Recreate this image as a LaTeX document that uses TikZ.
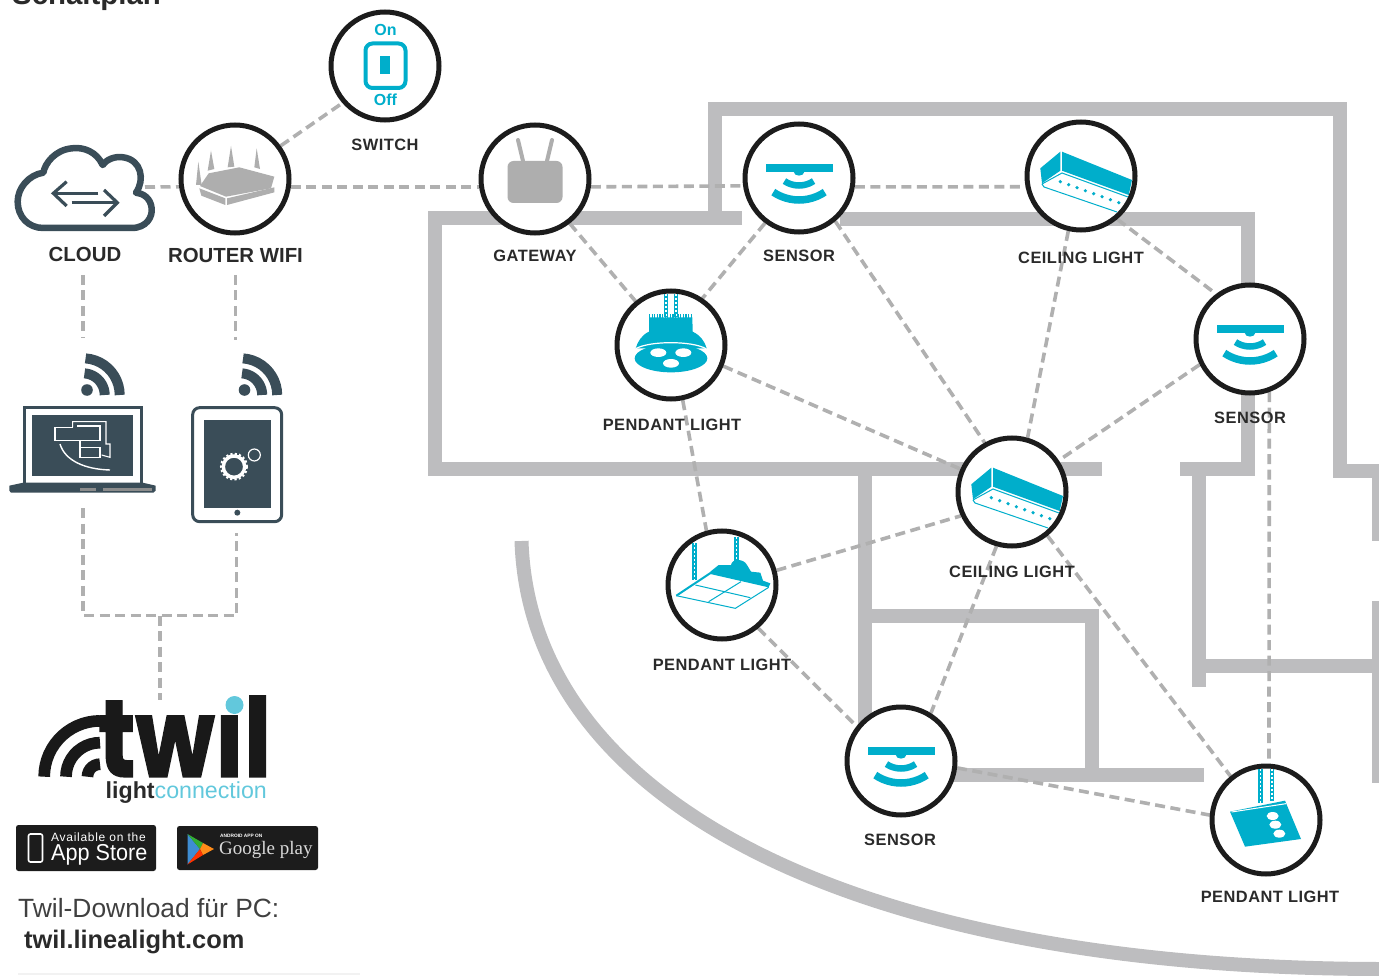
\documentclass[tikz,border=0pt]{standalone}
\usepackage{fontspec}
\setmainfont{Liberation Sans}
\newfontfamily\labfont[LetterSpace=3]{Liberation Sans}
\newfontfamily\spacedfont[LetterSpace=6]{Liberation Sans}
\newfontfamily\logofont[BoldFeatures={FakeBold=1.6}]{Poppins}
\newfontfamily\gfont{Liberation Serif}
\definecolor{wallc}{HTML}{BDBDBF}
\definecolor{linkc}{HTML}{B0B0B0}
\definecolor{ink}{HTML}{1C1C1C}
\definecolor{txt}{HTML}{2A2A2A}
\definecolor{cy}{HTML}{00AECB}
\definecolor{slate}{HTML}{3A4D58}
\definecolor{lightcy}{HTML}{62C8DC}
\definecolor{devgray}{HTML}{AEAEAE}
\pgfdeclarelayer{walls}
\pgfdeclarelayer{links}
\pgfsetlayers{walls,links,main}
\tikzset{
  lamp/.style={circle,draw=ink,line width=5pt,fill=white,minimum size=108pt,inner sep=0pt},
  wall/.style={draw=wallc,line width=14pt},
  link/.style={draw=linkc,line width=3.6pt,dash pattern=on 10pt off 5.5pt},
  lab/.style={inner sep=0pt,text=txt,font=\labfont\bfseries\fontsize{16.4}{18}\selectfont},
  bigl/.style={inner sep=0pt,text=txt,font=\bfseries\fontsize{20.4}{24}\selectfont},
  chainl/.style={draw=cy,line width=4.6pt},
  chaind/.style={draw=white,line width=1.6pt,dash pattern=on 2pt off 2pt},
}
\newcommand{\sensoricon}[1]{\begin{scope}[shift={(#1)}]
  \fill[cy] (-33.5,-14) rectangle (33.5,-6);
  \fill[cy] (-5.5,-6.5) .. controls (-5,-1) and (5,-1) .. (5.5,-6.5) -- cycle;
  \draw[cy,line width=6.5pt] plot[domain=-34:34,samples=13] ({26*sin(\x)},{-18.5+26*cos(\x)});
  \draw[cy,line width=7.5pt] plot[domain=-34:34,samples=13] ({46*sin(\x)},{-24+46*cos(\x)});
\end{scope}}
\newcommand{\ceilingicon}[1]{\begin{scope}[shift={(#1)}]
  \fill[cy] (-40.7,-7.7) -- (-20.7,-24.3) -- (-20.7,-5.3) -- (-39,7.3) -- cycle;
  \fill[cy] (-19,-24.3) -- (51,4) -- (47.7,19) -- (-19,-5.3) -- cycle;
  \draw[cy,line width=1pt] (-39,8) -- (-19,-3) -- (47,21);
  \draw[cy,line width=1pt] (-39,8) -- (-37,11) -- (36,36);
  \foreach \k in {0,...,7} \fill[cy] ({-20.7+\k*8.35},{5.7+\k*3}) circle[radius=1.8];
\end{scope}}
\newcommand{\chainline}[3]{%
  \draw[chainl] (#1,#2) -- (#1,#3); \draw[chaind] (#1,#2) -- (#1,#3);}
\newcommand{\wifiicon}[1]{\begin{scope}[shift={(#1)}]
  \fill[slate] (4,-5) circle[radius=5.8];
  \draw[slate,line width=10pt] plot[domain=0:86,samples=12] ({21.7*cos(\x)},{-21.7*sin(\x)});
  \draw[slate,line width=10pt] plot[domain=0:86,samples=12] ({36.7*cos(\x)},{-36.7*sin(\x)});
\end{scope}}
\begin{document}
\begin{tikzpicture}[x=1pt,y=-1pt]
\clip (0,0) rectangle (1379,976);
\useasboundingbox (0,0) rectangle (1379,976);

% --- walls
\begin{pgfonlayer}{walls}
  \draw[wall] (742,218) -- (435,218) -- (435,469) -- (1102,469);
  \draw[wall,line join=miter] (715,218) -- (715,109) -- (1340,109) -- (1340,470.5) -- (1379,470.5);
  \draw[wall] (840,219) -- (1248,219) -- (1248,469) -- (1180,469);
  \draw[wall] (865,469) -- (865,730);
  \draw[wall] (865,616) -- (1091.5,616) -- (1091.5,775);
  \draw[wall] (950,774.5) -- (1204,774.5);
  \draw[wall] (1199,469) -- (1199,687);
  \draw[wall] (1199,666) -- (1379,666);
  \draw[wall] (1379,478) -- (1379,541);
  \draw[wall] (1379,601) -- (1379,783);
  \draw[wall] (521.5,541) .. controls (530,800) and (850,968) .. (1379,969);
  \draw[draw=black!5,line width=2pt] (18,974) -- (360,974);
\end{pgfonlayer}

% --- device circles
\node[lamp] (switch)   at (385,66)  {};
\node[lamp] (router)   at (235,179) {};
\node[lamp] (gateway)  at (535,179) {};
\node[lamp] (sensorA)  at (799,178) {};
\node[lamp] (ceilingA) at (1081,176) {};
\node[lamp] (sensorB)  at (1250,339) {};
\node[lamp] (pendantA) at (671,345) {};
\node[lamp] (ceilingB) at (1012,492) {};
\node[lamp] (pendantB) at (722,585) {};
\node[lamp] (sensorC)  at (901,761) {};
\node[lamp] (pendantC) at (1266,820) {};

% --- free connector ends
\coordinate (cloudport) at (145,187);
\coordinate (cloudlow) at (83,275);
\coordinate (routerlow) at (235.5,275);
\coordinate (wifiA) at (83,338);
\coordinate (wifiB) at (235.5,340);
\coordinate (laptoplow) at (83,508);
\coordinate (tabletlow) at (236.5,533);
\coordinate (joinL) at (83,615.5);
\coordinate (joinR) at (236.5,615.5);
\coordinate (joinM) at (160,615.5);
\coordinate (logotop) at (160,700);

% --- labels
\node[lab] (lswitch) at (385,145) {SWITCH};
\node[bigl] (lcloud) at (85,254) {CLOUD};
\node[bigl] (lrouter) at (235.5,255) {ROUTER WIFI};
\node[lab] (lgateway) at (535,256) {GATEWAY};
\node[lab] (lsensorA) at (799,256) {SENSOR};
\node[lab] (lceilingA) at (1081,258) {CEILING LIGHT};
\node[lab] (lsensorB) at (1250,418) {SENSOR};
\node[lab] (lpendantA) at (672,425) {PENDANT LIGHT};
\node[lab] (lceilingB) at (1012,572) {CEILING LIGHT};
\node[lab] (lpendantB) at (722,665) {PENDANT LIGHT};
\node[lab] (lsensorC) at (900,840) {SENSOR};
\node[lab] (lpendantC) at (1270,897) {PENDANT LIGHT};

% --- connectors
\begin{pgfonlayer}{links}
  \draw[link] (cloudport) -- (router.188);
  \draw[link] (router.-8) -- (gateway.188);
  \draw[link] (gateway.-8) -- (sensorA.188);
  \draw[link] (sensorA.-9) -- (ceilingA.191);
  \draw[link] (router.36) -- (switch.221);
  \draw[link] (gateway.-52) -- (pendantA.129);
  \draw[link] (sensorA.233) -- (pendantA.56);
  \draw[link] (sensorA.-50) -- (ceilingB.119);
  \draw[link] (ceilingA.257) -- (ceilingB.74);
  \draw[link] (ceilingA.-50) -- (sensorB.127);
  \draw[link] (sensorB.207) -- (ceilingB.34);
  \draw[link] (sensorB.-70) -- (pendantC.87);
  \draw[link] (pendantA.-22.5) -- (ceilingB.156);
  \draw[link] (pendantA.-78) -- (pendantB.106);
  \draw[link] (pendantB.15) -- (ceilingB.205);
  \draw[link] (pendantB.-50) -- (sensorC.142);
  \draw[link] (ceilingB.254.5) -- (sensorC.58);
  \draw[link] (ceilingB.-51.5) -- (pendantC.129);
  \draw[link] (sensorC.-7) -- (pendantC.175);
  \draw[link] (cloudlow) -- (wifiA);
  \draw[link] (routerlow) -- (wifiB);
  \draw[link] (laptoplow) -- (joinL) -- (joinR) -- (tabletlow);
  \draw[link] (joinM) -- (logotop);
\end{pgfonlayer}

% --- switch icon
\begin{scope}[shift={(385,66)}]
  \draw[cy,line width=4pt,rounded corners=7pt] (-19.5,-22.5) rectangle (20.5,22);
  \fill[cy] (-4.7,-10) rectangle (5,8);
  \node[inner sep=0pt,text=cy,font=\bfseries\fontsize{16}{18}\selectfont] (onlab) at (0.5,-36) {On};
  \node[inner sep=0pt,text=cy,font=\bfseries\fontsize{16}{18}\selectfont] (offlab) at (0.5,34) {Off};
\end{scope}

% --- router icon
\begin{scope}[shift={(235,179)},scale=1/3,shift={(-707,-537)},devgray]
  \fill[devgray] (590,555) -- (597,485) -- (607,555) -- cycle;
  \fill[devgray] (625,512) -- (635,452) -- (645,507) -- cycle;
  \fill[devgray] (685,502) -- (695,438) -- (705,500) -- cycle;
  \fill[devgray] (765,502) -- (772,445) -- (782,507) -- cycle;
  \fill[devgray] (602,558) -- (628,520) -- (720,502) -- (825,530) -- (815,565) -- (680,590) -- cycle;
  \fill[devgray] (600,565) -- (678,595) -- (678,615) -- (606,587) -- cycle;
  \fill[devgray] (683,595) -- (825,562) -- (825,577) -- (683,615) -- cycle;
\end{scope}

% --- gateway icon
\begin{scope}[shift={(535,179)}]
  \fill[devgray,rounded corners=6pt] (-27.5,-18) rectangle (27.5,24);
  \draw[devgray,line width=4pt,line cap=round] (-17,-39) -- (-12,-18);
  \draw[devgray,line width=4pt,line cap=round] (17,-39) -- (12,-18);
\end{scope}

\sensoricon{799,178}
\sensoricon{1250,339}
\sensoricon{901,761}
\ceilingicon{1081,176}
\ceilingicon{1012,492}

% --- pendant A
\begin{scope}[shift={(671,345)},scale=1/3,shift={(-603,-705)}]
  \chainline{588}{552}{622}
  \chainline{618}{552}{622}
  \draw[cy,line width=4pt,dash pattern=on 1.2pt off 1.4pt] (537,618) -- (667,618);
  \fill[cy] (537,622) -- (667,622) -- (668,665)
     .. controls (690,675) and (705,695) .. (710,715) -- (497,715) .. controls (503,695) and (515,675) .. (537,665) -- cycle;
  \fill[cy] (603,745) ellipse[x radius=109,y radius=42];
  \draw[white,line width=1.2pt] (497,716) .. controls (540,692) and (665,692) .. (708,716);
  \fill[white] (565,728) ellipse[x radius=24,y radius=13];
  \fill[white] (640,728) ellipse[x radius=24,y radius=13];
  \fill[white] (603,760) ellipse[x radius=24,y radius=13];
\end{scope}

% --- pendant B
\begin{scope}[shift={(722,585)},scale=1/3,shift={(-245,-465)}]
  \chainline{163}{340}{450}
  \chainline{288}{320}{392}
  \fill[cy] (210,425) -- (235,405) -- (272,405) .. controls (275,385) and (310,385) .. (320,405) -- (332,425) -- (360,428) -- (368,452) -- (390,460) -- (385,472) -- (210,432) -- cycle;
  \draw[cy,line width=2pt] (108,497) -- (212,428);
  \draw[cy,line width=1pt] (108,497) -- (285,535) -- (385,472);
  \draw[cy,line width=1pt] (165,465) -- (330,503);
  \draw[cy,line width=1pt] (205,515) -- (302,455);
\end{scope}

% --- pendant C
\begin{scope}[shift={(1266,820)},scale=1/3,shift={(-1308,-390)}]
  \chainline{1292}{236}{338}
  \chainline{1326}{236}{334}
  \fill[cy] (1200,365) -- (1365,332) -- (1413,447) -- (1245,470) -- cycle;
  \draw[white,line width=1pt] (1205,366) -- (1368,341);
  \fill[white] (1328,378) ellipse[x radius=18,y radius=12];
  \fill[white] (1336,404) ellipse[x radius=18,y radius=12];
  \fill[white] (1348,431) ellipse[x radius=18,y radius=12];
\end{scope}

% --- cloud
\begin{scope}[scale=1/3]
  \draw[slate,line width=6.5pt,line join=round] (130,684) -- (395,684)
    .. controls (440,684) and (458,650) .. (455,625)
    .. controls (452,595) and (430,580) .. (408,578)
    .. controls (435,540) and (425,480) .. (370,472)
    .. controls (345,468) and (320,478) .. (308,495)
    .. controls (290,455) and (250,440) .. (215,445)
    .. controls (165,450) and (135,490) .. (130,518)
    .. controls (85,525) and (53,565) .. (53,605)
    .. controls (53,650) and (85,684) .. (130,684) -- cycle;
  \draw[slate,line width=3.2pt] (295,580) -- (165,580);
  \draw[slate,line width=3.2pt] (200,545) -- (160,580) -- (200,618);
  \draw[slate,line width=3.2pt] (215,608) -- (345,608);
  \draw[slate,line width=3.2pt] (312,570) -- (352,608) -- (312,648);
\end{scope}

\wifiicon{83,395}
\wifiicon{240.5,395}

% --- laptop
\begin{scope}[shift={(0,340)},scale=1/3]
  \draw[slate,line width=3pt] (73,428) -- (73,203) -- (426,203) -- (426,428);
  \fill[slate] (97,226) rectangle (400,408);
  \fill[slate] (28,437) -- (70,428) -- (428,428) -- (467,437) -- (467,452) -- (460,458) -- (33,458) -- (28,452) -- cycle;
  \fill[black!45] (240,445) rectangle (288,452);
  \fill[black!45] (310,445) rectangle (455,452);
  \begin{scope}[white,line width=1.1pt]
    \draw[white] (218,262) -- (165,262) -- (165,302) -- (300,302) -- (300,258) -- (232,258);
    \draw[white] (218,262) -- (218,245) -- (318,245) -- (318,312) -- (330,312) -- (330,352) -- (305,345);
    \draw[white] (240,302) -- (240,352) -- (300,352) -- (300,322) -- (240,322);
    \draw[white,line width=1.4pt] (180,312) .. controls (195,362) and (255,388) .. (330,390);
  \end{scope}
\end{scope}

% --- tablet
\begin{scope}[shift={(0,340)},scale=1/3]
  \draw[slate,line width=3pt,rounded corners=7pt] (578,203) rectangle (845,545);
  \fill[slate] (612,240) rectangle (812,503);
  \fill[slate] (712,518) circle[radius=9];
  \draw[white,line width=3.4pt] (702,380) circle[radius=32];
  \draw[white,line width=2pt,dash pattern=on 2.2pt off 2.2pt] (702,380) circle[radius=39];
  \draw[white,line width=1.2pt] (763,345) circle[radius=18];
\end{scope}

% --- logo
\draw[black!90,line width=11.7pt] plot[domain=0:90,samples=16] ({100-55.8*cos(\x)},{776.7-55.8*sin(\x)});
\draw[black!90,line width=11.7pt] plot[domain=0:90,samples=12] ({100-34*cos(\x)},{776.7-34*sin(\x)});
\draw[black!90,line width=11.7pt] plot[domain=0:90,samples=8] ({100-12.5*cos(\x)},{776.7-12.5*sin(\x)});
\node[anchor=base west,inner sep=0pt,text=black!90] (twil) at (98,776.7)
  {\smash{\scalebox{.84}[1]{\logofont\bfseries\fontsize{109}{110}\selectfont tw\char"0131 l}}};
\fill[lightcy] (234.5,705) circle[radius=9];
\node[anchor=base west,inner sep=0pt,font=\fontsize{23.2}{26}\selectfont] (lightconn) at (105.5,798)
  {\textbf{\textcolor{txt}{light}}\textcolor{lightcy}{connection}};

% --- store badges
\fill[ink,rounded corners=2.5pt] (16,825) rectangle (156,871);
\draw[white,line width=1.6pt,rounded corners=2pt] (28.5,834) rectangle (42.5,862);
\node[anchor=west,inner sep=0pt,text=white,font=\spacedfont\fontsize{12}{13}\selectfont] (appa) at (51,837.5) {Available on the};
\node[anchor=west,inner sep=0pt,text=white,font=\fontsize{23}{24}\selectfont] (appb) at (51,855) {\scalebox{.94}[1]{App Store}};
\fill[ink,rounded corners=2.5pt] (177,826) rectangle (318,870);
\fill[cyan!60!blue!80] (187.5,834) -- (200,849) -- (187.5,864.5) -- cycle;
\fill[green!60!black!80] (187.5,834) -- (203,843) -- (200,849) -- cycle;
\fill[orange!90] (203,843) -- (214,849) -- (203,855) -- (200,849) -- cycle;
\fill[red!60!orange] (187.5,864.5) -- (200,849) -- (203,855) -- cycle;
\node[anchor=west,inner sep=0pt,text=white,font=\bfseries\fontsize{4.8}{5}\selectfont] (gpa) at (220,836) {ANDROID APP ON};
\node[anchor=west,inner sep=0pt,text=white!85!black,font=\gfont\fontsize{19}{22}\selectfont] (gpb) at (219,849.5) {Google play};

% --- title and footer
\node[anchor=base west,inner sep=0pt,text=txt,font=\bfseries\fontsize{29.4}{32}\selectfont] (title) at (12,5) {Schaltplan};
\node[anchor=base west,inner sep=0pt,text=black!75,font=\fontsize{26.4}{30}\selectfont] (dl) at (18,917) {Twil-Download für PC:};
\node[anchor=base west,inner sep=0pt,text=txt,font=\bfseries\fontsize{25.4}{30}\selectfont] (url) at (24,948) {twil.linealight.com};
\end{tikzpicture}
\end{document}
